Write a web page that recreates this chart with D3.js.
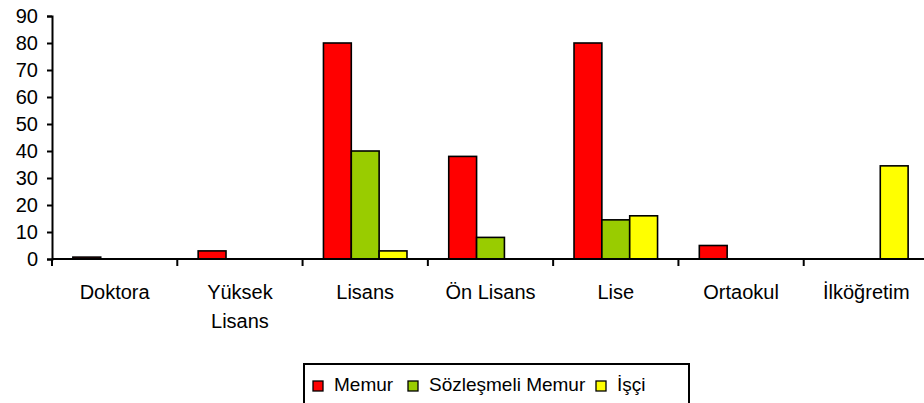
<!DOCTYPE html>
<html lang="tr">
<head>
    <meta charset="UTF-8">
    <title>Eğitim Durumu</title>
    <script src="https://d3js.org/d3.v7.min.js"></script>
    <style>
        body { margin: 0; background: white; }
        svg text { font-family: 'Liberation Sans', Arial, sans-serif; fill: black; }
    </style>
</head>
<body>
    <div id="chart"></div>

    <script>
        // data
        const categories = ["Doktora", "Yüksek Lisans", "Lisans", "Ön Lisans", "Lise", "Ortaokul", "İlköğretim"];
        const seriesNames = ["Memur", "Sözleşmeli Memur", "İşçi"];
        const memur = [0.7, 3, 80, 38, 80, 5, 0];
        const sozlesmeli = [0, 0, 40, 8, 14.5, 0, 0];
        const isci = [0, 0, 3, 0, 16, 0, 34.5];
        const colors = ["#ff0000", "#99cc00", "#ffff00"];
        const yTicks = [0, 10, 20, 30, 40, 50, 60, 70, 80, 90];

        const W = 924, H = 403;
        const margin = {top: 16, right: -5, bottom: 144, left: 52};
        const innerW = W - margin.left - margin.right,
              innerH = H - margin.top - margin.bottom;
        const fs = "20px";

        const svg = d3.select("#chart")
            .append("svg")
                .attr("width", W)
                .attr("height", H);
        const g = svg.append("g")
            .attr("transform", `translate(${margin.left},${margin.top})`);

        const values = [memur, sozlesmeli, isci];
        const data = categories.map((c, i) => ({
            cat: c,
            vals: seriesNames.map((s, k) => ({series: s, k: k, v: values[k][i]}))
        }));

        // scales
        const x = d3.scaleBand()
            .domain(categories)
            .range([0, innerW])
            .paddingInner(0)
            .paddingOuter(0);
        const gap = 1.5;   // excel style gap width 150%
        const barW = x.bandwidth() / (3 + gap);
        const xs = d3.scaleBand()
            .domain(d3.range(3))
            .range([barW * gap / 2, barW * gap / 2 + barW * 3]);
        const y = d3.scaleLinear()
            .domain([0, 90])
            .range([innerH, 0]);

        // bars
        g.selectAll("g.cat")
            .data(data)
            .join("g")
                .attr("class", "cat")
                .attr("transform", d => `translate(${x(d.cat)},0)`)
            .selectAll("rect")
            .data(d => d.vals.filter(e => e.v > 0))
            .join("rect")
                .attr("x", e => xs(e.k))
                .attr("width", xs.bandwidth())
                .attr("y", e => y(e.v))
                .attr("height", e => innerH - y(e.v))
                .attr("fill", e => colors[e.k])
                .attr("stroke", "black")
                .attr("stroke-width", 1.6);

        // y axis
        const yAxis = g.append("g")
            .call(d3.axisLeft(y).tickValues(yTicks).tickSize(5).tickPadding(9));
        yAxis.select(".domain").attr("stroke-width", 2);
        yAxis.selectAll(".tick line").attr("stroke-width", 2);
        yAxis.selectAll("text").style("font-size", fs);

        // x axis
        const xAxis = g.append("g")
            .attr("transform", `translate(0,${innerH})`);
        xAxis.append("line")
            .attr("x1", 0).attr("x2", innerW)
            .attr("stroke", "black").attr("stroke-width", 2);
        xAxis.selectAll("line.tk")
            .data(categories)
            .join("line")
                .attr("class", "tk")
                .attr("x1", d => x(d)).attr("x2", d => x(d))
                .attr("y1", 0).attr("y2", 7)
                .attr("stroke", "black").attr("stroke-width", 2);

        // category labels (wrap "Yüksek Lisans")
        const lbl = xAxis.selectAll("text.cl")
            .data(categories)
            .join("text")
                .attr("class", "cl")
                .attr("text-anchor", "middle")
                .attr("y", 40)
                .style("font-size", fs);
        lbl.each(function(d) {
            const parts = d === "Yüksek Lisans" ? ["Yüksek", "Lisans"] : [d];
            d3.select(this).selectAll("tspan")
                .data(parts)
                .join("tspan")
                    .attr("x", x(d) + x.bandwidth() / 2)
                    .attr("dy", (p, j) => j === 0 ? 0 : 29)
                    .text(p => p);
        });

        // legend
        const legend = svg.append("g")
            .attr("transform", "translate(304,364)");
        legend.append("rect")
            .attr("width", 385).attr("height", 50)
            .attr("fill", "white")
            .attr("stroke", "black").attr("stroke-width", 2);
        const legX = [9, 104, 292];
        const item = legend.selectAll("g.li")
            .data(seriesNames)
            .join("g")
                .attr("class", "li")
                .attr("transform", (d, i) => `translate(${legX[i]},17)`);
        item.append("rect")
            .attr("width", 10).attr("height", 10)
            .attr("fill", (d, i) => colors[i])
            .attr("stroke", "black").attr("stroke-width", 1.3);
        item.append("text")
            .attr("x", 21).attr("y", 10)
            .style("font-size", "19px")
            .text(d => d);
    </script>
</body>
</html>
